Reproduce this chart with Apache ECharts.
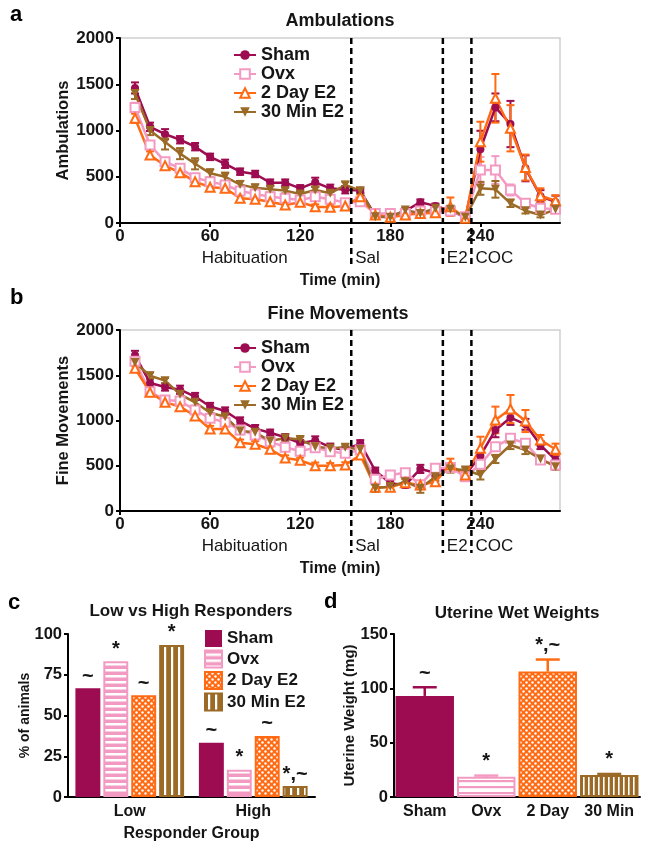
<!DOCTYPE html>
<html><head><meta charset="utf-8">
<script src="https://cdn.jsdelivr.net/npm/echarts@6/dist/echarts.min.js"></script>
<style>html,body{margin:0;padding:0;background:#fff}#c{width:651px;height:852px}</style>
</head><body><div id="c"></div>
<script>
// ---------------- DATA ----------------
const minutes = [10,20,30,40,50,60,70,80,90,100,110,120,130,140,150,160,170,180,190,200,210,220,230,240,250,260,270,280,290];
const groups = ['Sham','Ovx','2 Day E2','30 Min E2'];

const ambSham = [1460,1040,960,900,825,715,640,555,530,436,436,375,440,375,360,350,80,70,130,225,185,133,62,797,1250,1070,591,290,225];
const ambOvx  = [1250,843,663,591,490,447,411,346,313,284,267,249,284,256,220,230,104,104,104,130,125,130,68,573,573,357,213,159,150];
const amb2Day = [1132,735,620,544,447,386,375,267,256,230,195,224,176,170,184,284,86,62,86,104,112,176,51,879,1348,1024,600,295,240];
const amb30   = [1400,1000,875,750,640,537,500,415,380,364,350,313,357,321,411,350,68,62,141,104,159,150,62,375,364,213,133,86,148];

const ambShamErr = [60,45,55,40,40,35,45,35,35,35,35,35,50,40,40,25,25,25,30,30,25,30,15,200,150,250,140,65,70];
const ambOvxErr  = [50,40,35,30,30,30,30,30,25,25,30,25,30,25,25,25,20,20,20,20,20,20,15,140,150,60,40,30,30];
const amb2DayErr = [50,40,35,30,30,30,30,30,25,25,30,25,25,25,25,25,20,20,20,25,25,100,15,216,263,250,140,80,60];
const amb30Err   = [60,50,80,60,60,45,45,40,35,35,30,30,35,30,35,30,20,20,20,20,20,25,15,70,90,40,30,25,25];

const fineSham = [1720,1415,1370,1340,1265,1155,1105,995,910,865,815,750,780,705,675,748,445,306,287,465,423,490,398,611,895,1031,958,729,564];
const fineOvx  = [1655,1318,1227,1215,1116,1024,980,895,840,766,705,660,700,656,637,674,350,398,423,290,472,480,379,516,711,803,748,564,508];
const fine2Day = [1577,1311,1201,1153,1050,906,906,755,737,682,585,560,500,500,508,619,262,262,313,287,324,508,398,693,1006,1127,994,785,682];
const fine30   = [1640,1495,1440,1289,1201,1086,1042,884,869,773,806,790,711,693,704,680,251,270,324,251,379,464,453,398,575,729,674,575,490];

const fineShamErr = [50,40,40,45,40,40,40,40,40,35,35,35,45,40,35,35,35,35,30,45,35,40,30,60,80,80,60,45,45];
const fineOvxErr  = [40,35,35,35,35,35,35,35,35,30,30,30,35,30,30,30,30,30,30,30,30,30,25,40,40,40,40,35,35];
const fine2DayErr = [40,40,35,35,35,35,35,35,35,30,30,30,35,30,30,35,40,40,40,40,40,70,30,128,147,155,122,55,62];
const fine30Err   = [40,35,30,45,40,35,35,35,35,35,30,30,35,30,30,35,40,40,40,50,45,40,30,50,45,45,45,35,35];

const xTicks = [0,60,120,180,240];
const phaseLines = [154,215,234];
const phaseLabels = ['Sal','E2','COC'];
const habCenter = [83];
const habLabel = 'Habituation';

const respCats = ['Low','High'];
const respSham = [66.7,33.3];
const respOvx  = [83.3,16.7];
const resp2Day = [62.5,37.5];
const resp30   = [93.3,6.7];
const respShamMark = ['~','~'];
const respOvxMark  = ['*','*'];
const resp2DayMark = ['~','~'];
const resp30Mark   = ['*','*,~'];

const uterCats = ['Sham','Ovx','2 Day','30 Min'];
const uterVals = [93,18.7,115.5,20.2];
const uterErr  = [8,1,11,1];
const uterMarks = ['~','*','*,~','*'];

// ---------------- STYLE ----------------
const FONT = '"Liberation Sans", Arial, sans-serif';
const TXT = '#151515';
const COL = ['#9d0b50','#f39ac3','#ff6a13','#9a6a26'];

function pat(w,h,bg,draw){
  const c=document.createElement('canvas');c.width=w;c.height=h;
  const x=c.getContext('2d');x.fillStyle=bg;x.fillRect(0,0,w,h);x.fillStyle='#fff';draw(x);
  return {image:c,repeat:'repeat'};
}
function dot(x,cx,cy,r){x.beginPath();x.arc(cx,cy,r,0,Math.PI*2);x.fill();}
const patOvxC = pat(6,6,COL[1],x=>x.fillRect(0,3,6,2.5));
const patDayC = pat(6,6,COL[2],x=>{dot(x,1.5,1.5,1.2);dot(x,4.5,4.5,1.2);});
const pat30C  = pat(7,7,COL[3],x=>x.fillRect(3,0,2.2,7));
const patOvxD = pat(6,6.5,'#fff',x=>{x.fillStyle=COL[1];x.fillRect(0,0,6,2.2);});
const patDayD = pat(6,6,COL[2],x=>{dot(x,1.5,1.5,1.2);dot(x,4.5,4.5,1.2);});
const pat30D  = pat(5.5,5,COL[3],x=>x.fillRect(3,0,1.6,5));

const symbols = ['circle','emptyRect','emptyTriangle','path://M0,0 L10,0 L5,9 Z'];
const symSizes = [8,9,9,9];

// ---------------- BUILD ----------------
const chart = echarts.init(document.getElementById('c'), null, {renderer:'canvas'});

function lineSeries(gi, arrs){
  return arrs.map((arr,k)=>({
    type:'line', name:groups[k], xAxisIndex:gi, yAxisIndex:gi,
    data: minutes.map((m,i)=>[m,arr[i]]),
    symbol:symbols[k], symbolSize:symSizes[k], showAllSymbol:true,
    lineStyle:{color:COL[k],width:2.5},
    itemStyle:{color:COL[k],borderColor:COL[k],borderWidth:k===1||k===2?2:0},
    z: 3, animation:false
  }));
}
function errSeries(gi, arrs, errs){
  return arrs.map((arr,k)=>({
    type:'custom', name:'err'+gi+'_'+k, xAxisIndex:gi, yAxisIndex:gi, silent:true, animation:false,
    data: minutes.map((m,i)=>[m,arr[i],errs[k][i]]),
    encode:{x:0,y:1}, z:2,
    renderItem:(params,api)=>{
      const x=api.value(0),y=api.value(1),e=api.value(2);
      const p1=api.coord([x,y+e]),p0=api.coord([x,Math.max(0,y-e)]);const hw=4;
      const st={stroke:COL[k],lineWidth:2};
      return {type:'group',children:[
        {type:'line',shape:{x1:p1[0],y1:p1[1],x2:p0[0],y2:p0[1]},style:st},
        {type:'line',shape:{x1:p1[0]-hw,y1:p1[1],x2:p1[0]+hw,y2:p1[1]},style:st},
        {type:'line',shape:{x1:p0[0]-hw,y1:p0[1],x2:p0[0]+hw,y2:p0[1]},style:st}
      ]};
    }
  }));
}
function phaseSeries(gi, ymax){
  return [{
    type:'custom', xAxisIndex:gi, yAxisIndex:gi, silent:true, clip:false, animation:false, z:6,
    data: phaseLines.map(v=>[v,0]), encode:{x:0,y:1},
    renderItem:(params,api)=>{
      const v=api.value(0);const top=api.coord([v,ymax]);const bot=api.coord([v,0]);
      return {type:'group',children:[
        {type:'line',shape:{x1:top[0],y1:top[1],x2:bot[0],y2:bot[1]+42},
         style:{stroke:'#000',lineWidth:2.5,lineDash:[6,4]}},
        {type:'text',x:bot[0]+4,y:bot[1]+35,style:{text:phaseLabels[params.dataIndex],fill:TXT,
          font:'17px '+FONT,textAlign:'left',textVerticalAlign:'middle',align:'left',verticalAlign:'middle'}}
      ]};
    }
  },{
    type:'custom', xAxisIndex:gi, yAxisIndex:gi, silent:true, clip:false, animation:false, z:6,
    data: habCenter.map(v=>[v,0]), encode:{x:0,y:1},
    renderItem:(params,api)=>{
      const p=api.coord([api.value(0),0]);
      return {type:'text',x:p[0],y:p[1]+35,style:{text:habLabel,fill:TXT,font:'17px '+FONT,
        textAlign:'center',textVerticalAlign:'middle',align:'center',verticalAlign:'middle'}};
    }
  }];
}

const axLine = {show:true,lineStyle:{color:'#000',width:2}};
const axTick = {show:true,length:4,lineStyle:{color:'#000',width:2}};
const lblBold = (fs)=>({color:TXT,fontWeight:'bold',fontSize:fs,fontFamily:FONT});
const plain = v=>String(v);

function timeX(gi){
  return {gridIndex:gi,type:'value',min:0,max:293,
    axisLine:axLine,axisTick:Object.assign({customValues:xTicks},axTick),
    axisLabel:Object.assign({customValues:xTicks,margin:5,formatter:plain},lblBold(17)),
    splitLine:{show:false},
    name:'Time (min)',nameLocation:'middle',nameGap:50,nameMoveOverlap:false,
    nameTextStyle:lblBold(16)};
}
function countY(gi,name){
  return {gridIndex:gi,type:'value',min:0,max:2000,interval:500,
    axisLine:axLine,axisTick:axTick,axisLabel:Object.assign({margin:6,formatter:plain},lblBold(17)),
    splitLine:{show:false},name:name,nameLocation:'middle',nameGap:48,nameMoveOverlap:false,
    nameTextStyle:lblBold(16.5)};
}

const barBase = (name,k,vals,pattern,marks)=>({
  type:'bar', name:name, xAxisIndex:2, yAxisIndex:2, data:vals, animation:false,
  barGap:'12%', barCategoryGap:'12%',
  itemStyle:{color:pattern,borderColor:COL[k],borderWidth:k===0?0:2},
  label:{show:true,position:'top',distance:2,formatter:p=>marks[p.dataIndex],
    color:TXT,fontSize:20,fontWeight:'bold',fontFamily:FONT}
});

const uterPatterns = [COL[0],patOvxD,patDayD,pat30D];

const option = {
  backgroundColor:'#fff',
  textStyle:{fontFamily:FONT},
  grid:[
    {left:120,right:91,top:38,height:185,show:true,borderColor:'#cfcfcf',borderWidth:1.5,containLabel:false},
    {left:120,right:91,top:330,height:181,show:true,borderColor:'#cfcfcf',borderWidth:1.5,containLabel:false},
    {left:68,width:247,top:634,height:163,containLabel:false},
    {left:394,width:246,top:634,height:163,containLabel:false}
  ],
  xAxis:[
    timeX(0), timeX(1),
    {gridIndex:2,type:'category',data:respCats,axisLine:axLine,axisTick:{show:false},
      axisLabel:Object.assign({margin:7,interval:0},lblBold(16)),nameMoveOverlap:false,
      name:'Responder Group',nameLocation:'middle',nameGap:29,nameTextStyle:lblBold(16)},
    {gridIndex:3,type:'category',data:uterCats,axisLine:axLine,axisTick:{show:false},
      axisLabel:Object.assign({margin:7,interval:0},lblBold(16))}
  ],
  yAxis:[
    countY(0,'Ambulations'), countY(1,'Fine Movements'),
    {gridIndex:2,type:'value',min:0,max:100,interval:25,axisLine:axLine,axisTick:axTick,
      axisLabel:Object.assign({margin:6},lblBold(16.5)),splitLine:{show:false},nameMoveOverlap:false,
      name:'% of animals',nameLocation:'middle',nameGap:36,nameTextStyle:lblBold(14)},
    {gridIndex:3,type:'value',min:0,max:150,interval:50,axisLine:axLine,axisTick:axTick,
      axisLabel:Object.assign({margin:6},lblBold(16.5)),splitLine:{show:false},nameMoveOverlap:false,
      name:'Uterine Weight (mg)',nameLocation:'middle',nameGap:37,nameTextStyle:lblBold(15)}
  ],
  legend:[
    {data:groups,left:228,top:41,orient:'vertical',itemWidth:22,itemHeight:12,itemGap:1,
      textStyle:lblBold(18),selectedMode:false},
    {data:groups,left:228,top:334,orient:'vertical',itemWidth:22,itemHeight:12,itemGap:1,
      textStyle:lblBold(18),selectedMode:false},
    {data:['c|Sham','c|Ovx','c|2 Day E2','c|30 Min E2'],formatter:n=>n.slice(2),
      left:199,top:625,orient:'vertical',icon:'rect',itemWidth:17,itemHeight:17,itemGap:2.5,
      textStyle:lblBold(17),selectedMode:false}
  ],
  graphic:[
    {type:'text',left:10,top:4,style:{text:'a',font:'bold 22px '+FONT,fill:'#000'}},
    {type:'text',left:10,top:287,style:{text:'b',font:'bold 22px '+FONT,fill:'#000'}},
    {type:'text',left:8,top:592,style:{text:'c',font:'bold 22px '+FONT,fill:'#000'}},
    {type:'text',left:324,top:591,style:{text:'d',font:'bold 22px '+FONT,fill:'#000'}},
    {type:'text',x:340,y:21,style:{text:'Ambulations',font:'bold 18px '+FONT,fill:TXT,textAlign:'center',textVerticalAlign:'middle'}},
    {type:'text',x:338,y:314,style:{text:'Fine Movements',font:'bold 18px '+FONT,fill:TXT,textAlign:'center',textVerticalAlign:'middle'}},
    {type:'text',x:191,y:611,style:{text:'Low vs High Responders',font:'bold 17px '+FONT,fill:TXT,textAlign:'center',textVerticalAlign:'middle'}},
    {type:'text',x:517,y:613,style:{text:'Uterine Wet Weights',font:'bold 17px '+FONT,fill:TXT,textAlign:'center',textVerticalAlign:'middle'}}
  ],
  series:[
    ...errSeries(0,[ambSham,ambOvx,amb2Day,amb30],[ambShamErr,ambOvxErr,amb2DayErr,amb30Err]),
    ...lineSeries(0,[ambSham,ambOvx,amb2Day,amb30]),
    ...phaseSeries(0,2000),
    ...errSeries(1,[fineSham,fineOvx,fine2Day,fine30],[fineShamErr,fineOvxErr,fine2DayErr,fine30Err]),
    ...lineSeries(1,[fineSham,fineOvx,fine2Day,fine30]),
    ...phaseSeries(1,2000),
    barBase('c|Sham',0,respSham,COL[0],respShamMark),
    barBase('c|Ovx',1,respOvx,patOvxC,respOvxMark),
    barBase('c|2 Day E2',2,resp2Day,patDayC,resp2DayMark),
    barBase('c|30 Min E2',3,resp30,pat30C,resp30Mark),
    {type:'bar',name:'uterine',xAxisIndex:3,yAxisIndex:3,animation:false,barCategoryGap:'5%',
      data:uterVals.map((v,i)=>({value:v,itemStyle:{color:uterPatterns[i],borderColor:COL[i],borderWidth:i===0?0:2}}))},
    {type:'custom',xAxisIndex:3,yAxisIndex:3,silent:true,clip:false,animation:false,z:5,
      data:uterVals.map((v,i)=>[i,v,uterErr[i]]),encode:{x:0,y:1},
      renderItem:(params,api)=>{
        const i=params.dataIndex;const v=api.value(1),e=api.value(2);
        const b=api.coord([i,v]),t=api.coord([i,v+e]);const hw=12;
        const st={stroke:COL[i],lineWidth:2.5};
        return {type:'group',children:[
          {type:'line',shape:{x1:t[0],y1:b[1],x2:t[0],y2:t[1]},style:st},
          {type:'line',shape:{x1:t[0]-hw,y1:t[1],x2:t[0]+hw,y2:t[1]},style:st},
          {type:'text',x:t[0],y:t[1]-4,style:{text:uterMarks[i],fill:TXT,font:'bold 20px '+FONT,
            textAlign:'center',textVerticalAlign:'bottom',align:'center',verticalAlign:'bottom'}}
        ]};
      }}
  ]
};
chart.setOption(option);
</script></body></html>
